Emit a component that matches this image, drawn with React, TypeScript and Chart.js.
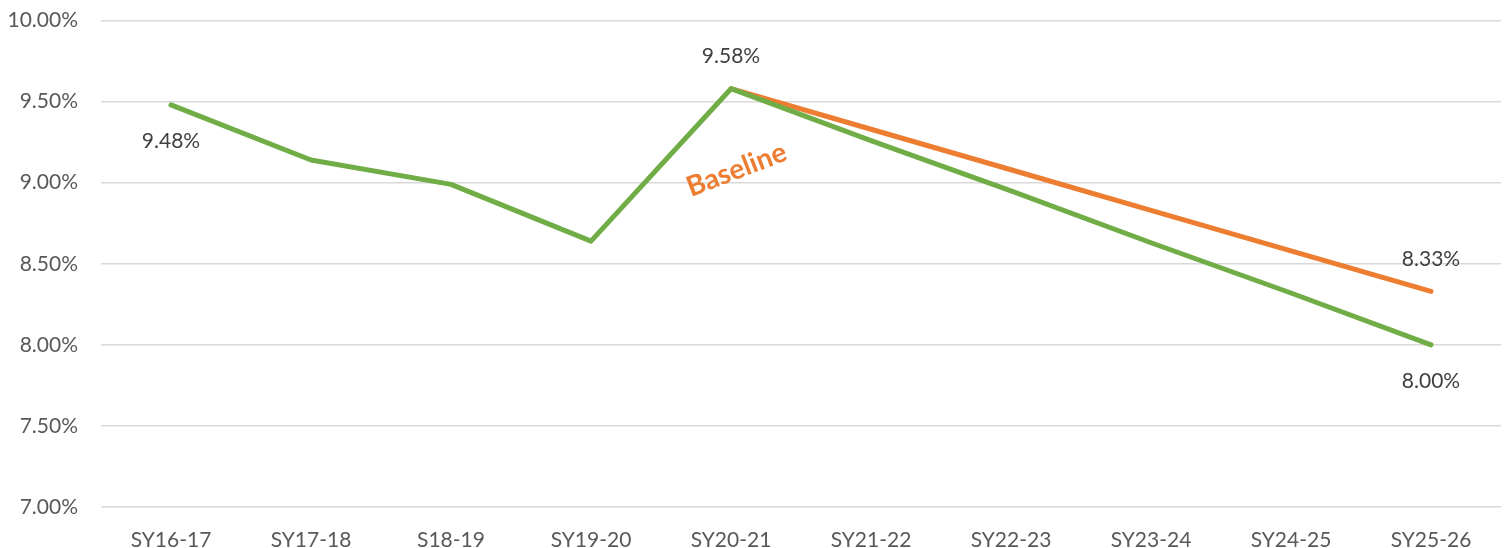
import React, { useEffect, useRef } from "react";
import { Chart, registerables } from "chart.js";

Chart.register(...registerables);

const categories = ["SY16-17", "SY17-18", "S18-19", "SY19-20", "SY20-21", "SY21-22", "SY22-23", "SY23-24", "SY24-25", "SY25-26"];
const actualValues = [9.48, 9.14, 8.99, 8.64, 9.58, 9.26, 8.95, 8.63, 8.32, 8.0];
const baselineValues: (number | null)[] = [null, null, null, null, 9.58, 9.33, 9.08, 8.83, 8.58, 8.33];
const yTicks = [7.0, 7.5, 8.0, 8.5, 9.0, 9.5, 10.0];

// data labels: [datasetIndex, pointIndex, placement]
const dataLabels: [number, number, "above" | "below"][] = [
  [0, 0, "below"],
  [0, 4, "above"],
  [1, 9, "above"],
  [0, 9, "below"],
];

const noteText = "Baseline";
const noteIndex = 4.04;
const noteValue = 9.08;

const GREEN = "#70AD47";
const ORANGE = "#ED7D31";
const FONT = "Lato, 'Noto Sans', sans-serif";

const labelPlugin = {
  id: "customLabels",
  afterDatasetsDraw(chart: any) {
    const ctx = chart.ctx;
    ctx.save();
    ctx.font = `21px ${FONT}`;
    ctx.fillStyle = "#404040";
    ctx.textAlign = "center";
    ctx.textBaseline = "middle";
    dataLabels.forEach(([ds, idx, place]) => {
      const pt = chart.getDatasetMeta(ds).data[idx];
      const v = chart.data.datasets[ds].data[idx] as number;
      const dy = place === "above" ? -32 : 36;
      ctx.fillText(v.toFixed(2) + "%", pt.x, pt.y + dy);
    });
    const xs = chart.scales.x;
    const ys = chart.scales.y;
    const nx = xs.getPixelForValue(noteIndex);
    const ny = ys.getPixelForValue(noteValue);
    ctx.translate(nx, ny);
    ctx.rotate((-21 * Math.PI) / 180);
    ctx.font = `bold 28px ${FONT}`;
    ctx.fillStyle = ORANGE;
    ctx.fillText(noteText, 0, 0);
    ctx.restore();
  },
};

export default function App() {
  const ref = useRef<HTMLCanvasElement | null>(null);
  useEffect(() => {
    if (!ref.current) return;
    const chart = new Chart(ref.current, {
      type: "line",
      data: {
        labels: categories,
        datasets: [
          {
            data: actualValues,
            borderColor: GREEN,
            backgroundColor: GREEN,
            borderWidth: 5,
            pointRadius: 0,
            borderCapStyle: "round",
            borderJoinStyle: "round",
            tension: 0,
          },
          {
            data: baselineValues,
            borderColor: ORANGE,
            backgroundColor: ORANGE,
            borderWidth: 5,
            pointRadius: 0,
            borderCapStyle: "round",
            borderJoinStyle: "round",
            tension: 0,
          },
        ],
      },
      options: {
        animation: false,
        responsive: true,
        maintainAspectRatio: false,
        layout: { padding: { top: 0, right: 6, left: 0, bottom: 0 } },
        plugins: { legend: { display: false }, tooltip: { enabled: false } },
        scales: {
          x: {
            offset: true,
            grid: { display: false, drawTicks: false },
            border: { display: false },
            ticks: { color: "#595959", font: { family: FONT, size: 21 }, padding: 21, maxRotation: 0 },
            afterFit: (s: any) => {
              s.height = 41;
            },
          },
          y: {
            min: 7,
            max: 10,
            afterBuildTicks: (s: any) => {
              s.ticks = yTicks.map((v) => ({ value: v }));
            },
            grid: { color: "#D9D9D9", lineWidth: 1.5, drawTicks: true, tickLength: 15, tickColor: "rgba(0,0,0,0)" },
            border: { display: false },
            ticks: {
              color: "#595959",
              font: { family: FONT, size: 21 },
              padding: 8,
              callback: (v: any) => Number(v).toFixed(2) + "%",
            },
            afterFit: (s: any) => {
              s.width = 101;
            },
          },
        },
      },
      plugins: [labelPlugin],
    });
    return () => chart.destroy();
  }, []);
  return (
    <div style={{ position: "fixed", left: 0, top: 0, width: 1507, height: 548, background: "#fff" }}>
      <canvas ref={ref} />
    </div>
  );
}
